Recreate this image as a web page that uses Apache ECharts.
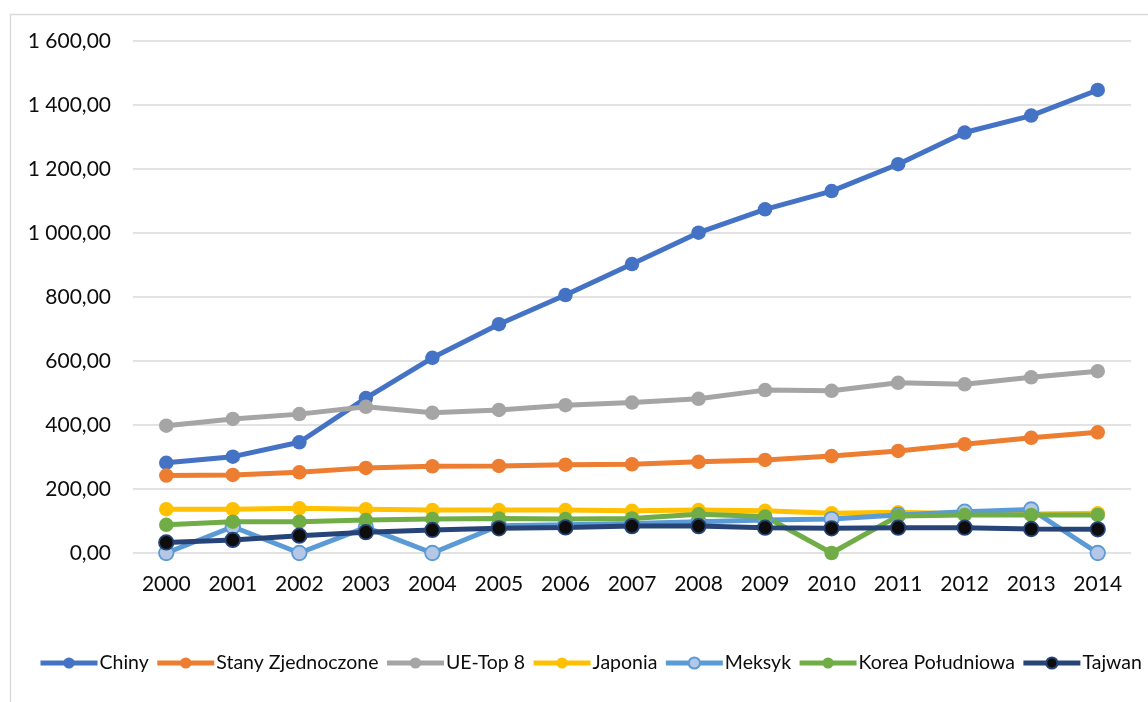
<!DOCTYPE html>
<html>
<head>
<meta charset="utf-8">
<script src="https://cdn.jsdelivr.net/npm/echarts@6/dist/echarts.min.js"></script>
<style>html,body{margin:0;padding:0;background:#fff;}#c{width:1148px;height:702px;}</style>
</head>
<body>
<div id="c"></div>
<script>
const years = ['2000','2001','2002','2003','2004','2005','2006','2007','2008','2009','2010','2011','2012','2013','2014'];
const chiny = [282, 301, 346, 484, 610, 715, 806, 903, 1001, 1074, 1131, 1215, 1314, 1367, 1447];
const stany = [242, 244, 252, 266, 271, 272, 276, 277, 285, 291, 303, 319, 340, 360, 377];
const ueTop8 = [398, 419, 434, 457, 438, 447, 462, 470, 482, 509, 507, 532, 527, 549, 568];
const japonia = [137, 137, 140, 137, 134, 134, 134, 132, 134, 132, 124, 127, 123, 122, 124];
const meksyk = [0, 82, 0, 80, 0, 85, 88, 92, 98, 103, 106, 119, 129, 136, 0];
const korea = [88, 98, 98, 103, 106, 108, 106, 108, 121, 114, 0, 116, 119, 119, 119];
const tajwan = [33, 41, 54, 65, 72, 77, 80, 84, 84, 79, 77, 79, 79, 75, 74];
const yTicks = [0, 200, 400, 600, 800, 1000, 1200, 1400, 1600];

const FONT = 'Lato, "Liberation Sans", sans-serif';
function fmt(v){
  const s = Math.round(v).toString().replace(/\B(?=(\d{3})+(?!\d))/g, ' ');
  return s + ',00';
}
function mk(name, data, color, sym, border){
  return {
    name: name, type: 'line', data: data,
    symbol: 'circle', symbolSize: 14.5,
    lineStyle: {color: color, width: 5},
    itemStyle: {color: sym || color, borderColor: border || color, borderWidth: border ? 1.8 : 0},
    emphasis: {disabled: true},
    animation: false
  };
}
const chart = echarts.init(document.getElementById('c'));
chart.setOption({
  backgroundColor: '#fff',
  graphic: [{
    type: 'rect', left: 8, top: 12,
    shape: {width: 1200, height: 760},
    style: {fill: 'none', stroke: '#d9d9d9', lineWidth: 1.3},
    silent: true
  }],
  grid: {left: 133, right: 17, top: 41, bottom: 149, containLabel: false},
  legend: {
    type: 'plain', left: 33, top: 648, width: 1400,
    itemWidth: 57, itemHeight: 14, itemGap: 6,
    lineStyle: {width: 5},
    textStyle: {fontFamily: FONT, fontSize: 19.5, color: '#0d0d0d', padding: [0,0,0,-3]},
    data: ['Chiny','Stany Zjednoczone','UE-Top 8','Japonia','Meksyk','Korea Południowa','Tajwan']
  },
  xAxis: {
    type: 'category', data: years, boundaryGap: true,
    axisLine: {show: false}, axisTick: {show: false},
    axisLabel: {fontFamily: FONT, fontSize: 21, color: '#0d0d0d', margin: 21}
  },
  yAxis: {
    type: 'value', min: yTicks[0], max: yTicks[yTicks.length-1], interval: 200,
    axisLine: {show: false}, axisTick: {show: false},
    splitLine: {lineStyle: {color: '#d9d9d9', width: 1.5}},
    axisLabel: {fontFamily: FONT, fontSize: 21, color: '#0d0d0d', margin: 22, formatter: fmt}
  },
  series: [
    mk('Chiny', chiny, '#4472c4'),
    mk('Stany Zjednoczone', stany, '#ed7d31'),
    mk('UE-Top 8', ueTop8, '#a5a5a5'),
    mk('Japonia', japonia, '#ffc000'),
    mk('Meksyk', meksyk, '#5b9bd5', '#b4c7e7', '#5b9bd5'),
    mk('Korea Południowa', korea, '#70ad47'),
    mk('Tajwan', tajwan, '#264478', '#0d0d0d', '#264478')
  ]
});
</script>
</body>
</html>
